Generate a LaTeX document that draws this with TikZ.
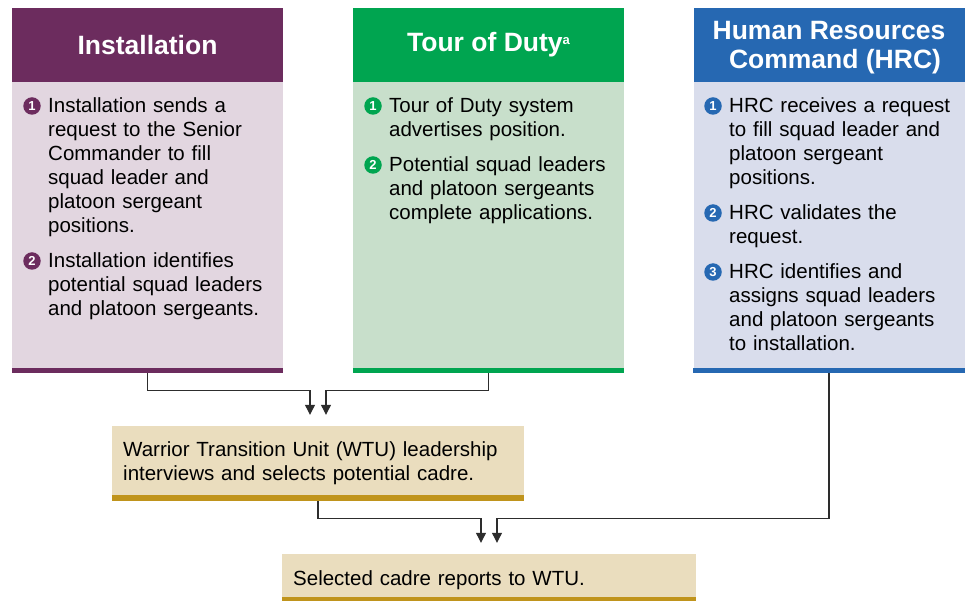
\documentclass[tikz,border=0pt]{standalone}
\usepackage{fontspec}
\setmainfont{Liberation Sans}
\usetikzlibrary{arrows.meta}

\definecolor{instdark}{RGB}{108,44,94}
\definecolor{instlight}{RGB}{226,214,224}
\definecolor{tourdark}{RGB}{0,165,80}
\definecolor{tourlight}{RGB}{200,223,203}
\definecolor{hrcdark}{RGB}{38,104,178}
\definecolor{hrclight}{RGB}{217,221,236}
\definecolor{wtulight}{RGB}{234,221,190}
\definecolor{wtudark}{RGB}{192,148,28}
\definecolor{linegray}{RGB}{45,45,45}

\tikzset{
  colbox/.style={rectangle,inner sep=0,minimum width=271pt,minimum height=365pt},
  colhead/.style={rectangle,inner sep=0,anchor=north,minimum width=271pt,minimum height=74pt,
    text=white,align=center,font=\fontsize{26.5}{28.5}\selectfont\bfseries},
  stepnum/.style={circle,inner sep=0,minimum size=17.5pt,text=white,
    font=\fontsize{13}{13}\selectfont\bfseries},
  steptext/.style={anchor=base west,inner sep=0,text width=250pt,align=left,
    font=\fontsize{20.5}{24}\selectfont},
  flowbox/.style={rectangle,inner sep=0,fill=wtulight},
  flowtext/.style={steptext,text width=420pt},
  link/.style={draw=linegray,line width=1.2pt},
  linkarrow/.style={link,-{Triangle[width=10pt,length=10pt]}}
}

\begin{document}
\begin{tikzpicture}[x=1pt,y=-1pt]
\useasboundingbox (0,0) rectangle (970,601);

\node[colbox,fill=instlight] (inst) at (147.5,190.5) {};
\node[colbox,fill=tourlight] (tour) at (488.5,190.5) {};
\node[colbox,fill=hrclight] (hrc) at (829,190.5) {};

\node[colhead,fill=instdark] (insthead) at (inst.north) {Installation};
\node[colhead,fill=tourdark] (tourhead) at (tour.north) {Tour of Duty\raisebox{7pt}{\fontsize{13}{13}\selectfont a}};
\node[colhead,fill=hrcdark] (hrchead) at (hrc.north) {\rule{0pt}{24pt}Human Resources\\\hspace*{12pt}Command (HRC)};

\draw[instdark,line width=5pt] ([yshift=2.5pt]inst.south west) -- ([yshift=2.5pt]inst.south east);
\draw[tourdark,line width=5pt] ([yshift=2.5pt]tour.south west) -- ([yshift=2.5pt]tour.south east);
\draw[hrcdark,line width=5pt] ([yshift=2.5pt]hrc.south west) -- ([yshift=2.5pt]hrc.south east);

\node[stepnum,fill=instdark] (inst1n) at (32,106) {1};
\node[steptext] (inst1) at (48,113) {Installation sends a\\request to the Senior\\Commander to fill\\squad leader and\\platoon sergeant\\positions.};
\node[stepnum,fill=instdark] (inst2n) at (32,261) {2};
\node[steptext] (inst2) at (48,268) {Installation identifies\\potential squad leaders\\and platoon sergeants.};

\node[stepnum,fill=tourdark] (tour1n) at (373,106) {1};
\node[steptext] (tour1) at (389,113) {Tour of Duty system\\advertises position.};
\node[stepnum,fill=tourdark] (tour2n) at (373,165) {2};
\node[steptext] (tour2) at (389,172) {Potential squad leaders\\and platoon sergeants\\complete applications.};

\node[stepnum,fill=hrcdark] (hrc1n) at (713,106) {1};
\node[steptext] (hrc1) at (729,113) {HRC receives a request\\to fill squad leader and\\platoon sergeant\\positions.};
\node[stepnum,fill=hrcdark] (hrc2n) at (713,213) {2};
\node[steptext] (hrc2) at (729,220) {HRC validates the\\request.};
\node[stepnum,fill=hrcdark] (hrc3n) at (713,272) {3};
\node[steptext] (hrc3) at (729,279) {HRC identifies and\\assigns squad leaders\\and platoon sergeants\\to installation.};

\node[flowbox,minimum width=412pt,minimum height=75pt] (wtu) at (318,463.5) {};
\draw[wtudark,line width=6pt] ([yshift=3pt]wtu.south west) -- ([yshift=3pt]wtu.south east);
\node[flowtext] (wtutext) at (123,457) {Warrior Transition Unit (WTU) leadership\\interviews and selects potential cadre.};

\node[flowbox,minimum width=414pt,minimum height=47pt] (cadre) at (489,577.5) {};
\draw[wtudark,line width=4pt] ([yshift=2pt]cadre.south west) -- ([yshift=2pt]cadre.south east);
\node[flowtext] (cadretext) at (293,586) {Selected cadre reports to WTU.};

\draw[linkarrow] (inst.south) -- ++(0,17) -| ([xshift=-8pt,yshift=11pt]wtu.north);
\draw[linkarrow] (tour.south) -- ++(0,17) -| ([xshift=8pt,yshift=11pt]wtu.north);
\draw[linkarrow] (wtu.south) -- ++(0,17) -| ([xshift=-8pt,yshift=11pt]cadre.north);
\draw[linkarrow] (hrc.south) -- ++(0,145) -| ([xshift=8pt,yshift=11pt]cadre.north);

\end{tikzpicture}
\end{document}
